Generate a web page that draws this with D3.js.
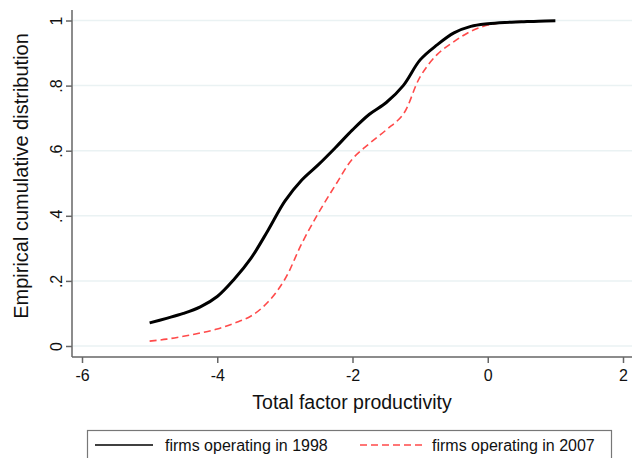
<!DOCTYPE html>
<html lang="en">
<head>
    <meta charset="UTF-8">
    <title>TFP cumulative distribution</title>
    <style>
        body { margin: 0; background: #fff; }
        svg { display: block; font-family: "Liberation Sans", Arial, sans-serif; }
    </style>
</head>
<body>
    <div id="chart"></div>

    <script src="https://cdnjs.cloudflare.com/ajax/libs/d3/7.8.5/d3.min.js"></script>

    <script>
        //tfp values where the curves were read
        const tfp = [-5, -4.75, -4.5, -4.25, -4, -3.75, -3.5, -3.25, -3, -2.75, -2.5, -2.25, -2,
            -1.75, -1.5, -1.25, -1, -0.75, -0.5, -0.25, 0, 0.25, 0.5, 0.75, 1];

        //firms operating in 1998
        const cdf1998 = [0.071, 0.085, 0.100, 0.120, 0.152, 0.205, 0.270, 0.355, 0.445, 0.510, 0.558, 0.610, 0.664,
            0.712, 0.748, 0.800, 0.879, 0.925, 0.962, 0.982, 0.990, 0.994, 0.996, 0.998, 0.999];

        //firms operating in 2007
        const cdf2007 = [0.015, 0.021, 0.030, 0.040, 0.052, 0.070, 0.092, 0.135, 0.205, 0.315, 0.410, 0.495, 0.575,
            0.622, 0.664, 0.712, 0.827, 0.895, 0.935, 0.967, 0.986, 0.994, 0.997, 0.998, 0.999];

        const xTicks = [-6, -4, -2, 0, 2];
        const yTicks = [0, 0.2, 0.4, 0.6, 0.8, 1];
        const yTickLabels = ['0', '.2', '.4', '.6', '.8', '1'];

        const seriesNames = ['firms operating in 1998', 'firms operating in 2007'];

        let width = 632;
        let height = 458;

        let svg = d3.select('#chart')
            .append('svg')
            .attr('width', width)
            .attr('height', height);

        //scales
        let x = d3.scaleLinear().domain([-6, 2]).range([82, 623]);
        let y = d3.scaleLinear().domain([0, 1]).range([346, 20.5]);

        let axisLeft = 72;
        let axisBottom = 357;

        //gridlines
        svg.append('g')
            .selectAll('line')
            .data(yTicks)
            .enter()
            .append('line')
            .attr('x1', axisLeft + 1)
            .attr('x2', width)
            .attr('y1', d => y(d))
            .attr('y2', d => y(d))
            .attr('stroke', '#eaf2f3')
            .attr('stroke-width', 1.5);

        //y axis, labels turned on their side like stata does
        let yAxis = svg.append('g')
            .attr('transform', `translate(${axisLeft},0)`)
            .call(d3.axisLeft(y).tickValues(yTicks).tickSize(6).tickFormat((d, i) => yTickLabels[i]));
        yAxis.select('.domain').attr('d', `M0,10V${axisBottom}`);
        yAxis.selectAll('line, path').attr('stroke', '#666').attr('stroke-width', 1.5);
        yAxis.selectAll('text')
            .attr('font-size', 16)
            .attr('fill', '#111')
            .attr('x', 0)
            .attr('dy', 0)
            .attr('transform', 'translate(-10.5,0) rotate(-90)')
            .attr('text-anchor', 'middle')
            .attr('font-family', 'Liberation Sans, Arial, sans-serif');

        //x axis
        let xAxis = svg.append('g')
            .attr('transform', `translate(0,${axisBottom})`)
            .call(d3.axisBottom(x).tickValues(xTicks).tickSize(6).tickPadding(7).tickFormat(d => String(d)));
        xAxis.select('.domain').attr('d', `M${axisLeft},0H${width}`);
        xAxis.selectAll('line, path').attr('stroke', '#666').attr('stroke-width', 1.5);
        xAxis.selectAll('text')
            .attr('font-size', 16)
            .attr('fill', '#111')
            .attr('font-family', 'Liberation Sans, Arial, sans-serif');

        //axis titles
        svg.append('text')
            .attr('x', 352)
            .attr('y', 409)
            .attr('text-anchor', 'middle')
            .attr('font-size', 19.5)
            .attr('fill', '#111')
            .text('Total factor productivity');

        svg.append('text')
            .attr('transform', 'translate(28,176) rotate(-90)')
            .attr('text-anchor', 'middle')
            .attr('font-size', 20)
            .attr('fill', '#111')
            .text('Empirical cumulative distribution');

        //curves
        let line = d3.line()
            .x((d, i) => x(tfp[i]))
            .y(d => y(d))
            .curve(d3.curveCatmullRom.alpha(0.5));

        svg.append('path')
            .datum(cdf2007)
            .attr('d', line)
            .attr('fill', 'none')
            .attr('stroke', '#ff4a4a')
            .attr('stroke-width', 1.6)
            .attr('stroke-dasharray', '7,4');

        svg.append('path')
            .datum(cdf1998)
            .attr('d', line)
            .attr('fill', 'none')
            .attr('stroke', '#000')
            .attr('stroke-width', 3);

        //legend
        let legend = svg.append('g');
        legend.append('rect')
            .attr('x', 87.5)
            .attr('y', 430.5)
            .attr('width', 524)
            .attr('height', 40)
            .attr('fill', '#fff')
            .attr('stroke', '#777')
            .attr('stroke-width', 1.2);

        legend.append('line')
            .attr('x1', 95).attr('x2', 153)
            .attr('y1', 445).attr('y2', 445)
            .attr('stroke', '#000')
            .attr('stroke-width', 1.5);
        legend.append('line')
            .attr('x1', 360).attr('x2', 422)
            .attr('y1', 445).attr('y2', 445)
            .attr('stroke', '#ff4a4a')
            .attr('stroke-width', 1.5)
            .attr('stroke-dasharray', '7,4');

        legend.selectAll('text.lab')
            .data(seriesNames)
            .enter()
            .append('text')
            .attr('class', 'lab')
            .attr('x', (d, i) => i == 0 ? 165 : 432)
            .attr('y', 451)
            .attr('font-size', 16)
            .attr('fill', '#111')
            .text(d => d);
    </script>
</body>
</html>
